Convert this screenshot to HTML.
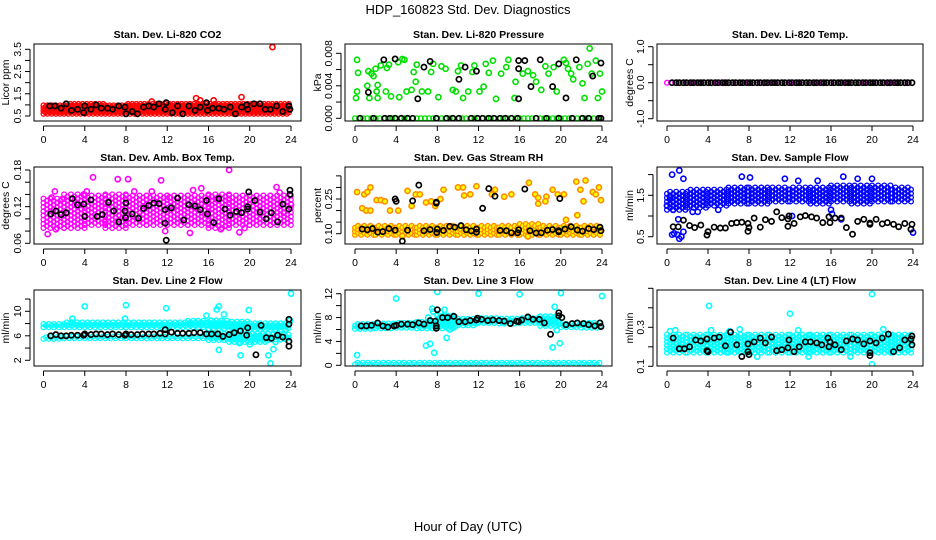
<!DOCTYPE html>
<html><head><meta charset="utf-8"><style>
html,body{margin:0;padding:0;background:#fff}
svg{display:block;font-family:"Liberation Sans",sans-serif}
</style></head><body>
<svg id="chart" width="936" height="540" viewBox="0 0 936 540">
<text x="468" y="14" text-anchor="middle" font-size="13">HDP_160823  Std. Dev. Diagnostics</text>
<text x="468" y="531" text-anchor="middle" font-size="13">Hour of Day (UTC)</text>
</svg>
<script>
// ---------- data ----------
const hourTicks = [0,4,8,12,16,20,24];
// 2-hour bin bands (12 bins) lo/hi
const co2BandLo = [0.6,0.6,0.6,0.6,0.6,0.6,0.6,0.6,0.6,0.6,0.6,0.6];
const co2BandHi = [1.0,1.05,1.05,1.0,1.05,1.05,1.05,1.1,1.1,1.1,1.1,1.05];
const co2Outliers = [[22.2,3.6],[14.8,1.3],[19.2,1.35],[16.5,1.2],[10.5,1.15],[15.2,1.2]];
const co2Black = [[0.6,0.95],[1.1,0.95],[1.7,0.85],[2.2,1.05],[2.7,0.75],[3.3,0.8],[3.9,0.65],[4.0,0.95],[4.6,0.8],[5.1,1.0],[5.6,0.85],[6.2,0.85],[6.7,0.8],[7.3,0.95],[7.9,0.9],[8.0,0.6],[8.6,0.7],[9.1,0.6],[9.7,0.9],[10.2,0.95],[10.7,0.9],[11.2,1.05],[11.8,0.8],[11.9,1.1],[12.5,0.65],[13.0,0.95],[13.5,0.6],[14.1,0.95],[14.7,0.75],[15.2,0.9],[15.8,1.1],[15.9,0.75],[16.4,0.85],[17.0,0.85],[17.5,0.8],[18.1,0.9],[18.6,0.6],[19.2,0.9],[19.7,1.0],[19.8,0.8],[20.4,1.05],[21.0,1.05],[21.5,0.8],[22.0,0.8],[22.6,0.95],[23.2,0.7],[23.8,0.95],[23.9,0.8]];

const presBandLo = [0,0,0,0,0,0,0,0,0,0,0,0];
const presBandHi = [0,0,0,0,0,0,0,0,0,0,0,0];
const presOutliers = [[0.2,0.0072],[0.3,0.0056],[0.2,0.0033],[0.1,0.0025],[1.2,0.004],[1.3,0.0058],[1.4,0.0025],[1.6,0.0055],[1.8,0.0052],[2.0,0.0061],[2.1,0.0033],[2.2,0.0041],[2.2,0.0025],[2.5,0.0065],[3.0,0.0033],[3.1,0.0062],[3.3,0.0066],[3.5,0.0027],[4.2,0.0069],[4.6,0.0073],[4.8,0.0072],[4.3,0.0026],[5.0,0.0033],[5.5,0.0035],[5.7,0.0057],[5.9,0.0045],[6.0,0.0066],[7.1,0.0033],[7.4,0.0057],[7.6,0.0067],[8.1,0.0026],[8.4,0.0064],[8.8,0.0061],[9.5,0.0035],[10.0,0.0058],[10.3,0.0065],[10.5,0.0025],[11.0,0.0033],[11.4,0.0057],[11.6,0.0065],[12.5,0.0039],[12.7,0.0067],[13.0,0.0056],[13.4,0.0071],[13.7,0.0024],[14.2,0.0055],[14.7,0.0063],[14.9,0.0072],[15.5,0.0025],[15.6,0.0045],[16.3,0.0055],[16.8,0.0058],[17.3,0.0053],[17.6,0.0045],[18.5,0.0064],[18.8,0.0055],[19.3,0.0063],[19.6,0.0033],[20.3,0.0072],[20.5,0.0068],[20.7,0.0061],[21.0,0.0055],[21.2,0.0048],[21.8,0.0063],[22.1,0.0043],[22.3,0.0025],[22.6,0.0067],[22.8,0.0086],[23.0,0.0055],[23.4,0.0071],[23.6,0.0025],[23.8,0.0055],[24.0,0.0033],[9.8,0.0033],[12.1,0.0033],[18.1,0.0035],[6.5,0.0033]];
const presBlack = [[1.3,0.0032],[2.8,0.0072],[3.9,0.0073],[6.1,0.0024],[6.7,0.0063],[7.3,0.0070],[10.1,0.0048],[10.7,0.0063],[11.8,0.0058],[15.9,0.0071],[15.9,0.0061],[15.9,0.0024],[16.5,0.0071],[17.1,0.0039],[18.0,0.0072],[19.2,0.0039],[19.8,0.0067],[20.5,0.0025],[21.5,0.0072],[23.1,0.0052],[23.9,0.0068],[0.5,0],[1.8,0],[2.9,0],[3.4,0],[3.9,0],[4.5,0],[5.1,0],[5.6,0],[7.9,0],[8.9,0],[9.5,0],[10.1,0],[11.3,0],[11.9,0],[12.4,0],[13.0,0],[13.5,0],[14.1,0],[14.6,0],[15.2,0],[15.8,0],[17.6,0],[18.6,0],[19.8,0],[21.1,0],[22.1,0],[22.7,0],[23.7,0],[23.9,0]];

const tempBandLo = [0,0,0,0,0,0,0,0,0,0,0,0];
const tempBandHi = [0,0,0,0,0,0,0,0,0,0,0,0];
const tempBlackHours = [0.5,0.9,1.2,1.6,1.9,2.3,2.6,3.0,3.3,3.6,4.0,4.3,4.7,5.0,5.4,5.7,6.0,6.4,6.7,7.1,7.4,7.8,8.1,8.4,8.8,9.1,9.5,9.8,10.2,10.5,10.8,11.2,11.5,11.9,12.2,12.6,12.9,13.2,13.6,13.9,14.3,14.6,15.0,15.3,15.6,16.0,16.3,16.7,17.0,17.4,17.7,18.0,18.4,18.7,19.1,19.4,19.8,20.1,20.4,20.8,21.1,21.5,21.8,22.2,22.5,22.8,23.2,23.5,23.9];

const ambBandLo = [0.085,0.085,0.09,0.085,0.09,0.09,0.09,0.09,0.085,0.09,0.09,0.09];
const ambBandHi = [0.135,0.14,0.14,0.14,0.14,0.14,0.14,0.14,0.14,0.14,0.14,0.14];
const ambOutliers = [[0.4,0.075],[0.8,0.135],[1.1,0.145],[1.8,0.132],[3.9,0.14],[4.2,0.145],[4.8,0.168],[7.2,0.165],[8.2,0.165],[8.8,0.145],[10.5,0.145],[11.4,0.163],[12.2,0.135],[14.2,0.077],[14.5,0.147],[15.3,0.15],[18.0,0.18],[17.2,0.083],[19.0,0.078],[19.5,0.085],[22.6,0.152],[22.9,0.143],[23.3,0.11],[24.0,0.123],[11.8,0.080],[1.2,0.083],[6.0,0.095],[16.8,0.132]];
const ambBlack = [[0.7,0.108],[1.2,0.113],[1.7,0.107],[2.2,0.11],[2.8,0.133],[3.3,0.123],[3.9,0.124],[4.0,0.104],[4.6,0.131],[5.2,0.104],[5.7,0.107],[6.3,0.127],[6.8,0.113],[7.3,0.095],[7.9,0.113],[7.95,0.102],[8.0,0.126],[8.6,0.108],[9.2,0.101],[9.7,0.117],[10.2,0.122],[10.7,0.126],[11.2,0.125],[11.8,0.093],[11.8,0.115],[11.9,0.065],[12.4,0.118],[13.0,0.134],[13.6,0.098],[14.1,0.123],[14.7,0.121],[15.2,0.115],[15.8,0.130],[15.9,0.108],[16.5,0.094],[17.0,0.133],[17.6,0.116],[18.1,0.106],[18.7,0.112],[19.2,0.110],[19.8,0.120],[19.8,0.116],[19.9,0.144],[20.5,0.130],[21.0,0.111],[21.6,0.100],[22.1,0.110],[22.7,0.095],[23.2,0.124],[23.8,0.116],[23.9,0.147],[23.9,0.140]];

const rhBandLo = [0.095,0.095,0.095,0.095,0.095,0.095,0.095,0.095,0.095,0.095,0.095,0.095];
const rhBandHi = [0.135,0.14,0.14,0.14,0.14,0.14,0.135,0.14,0.145,0.14,0.14,0.14];
const rhOutliers = [[0.2,0.28],[0.9,0.27],[1.2,0.28],[1.5,0.3],[0.7,0.21],[1.1,0.2],[1.5,0.2],[2.1,0.245],[2.5,0.245],[2.9,0.24],[3.4,0.2],[4.2,0.2],[5.1,0.285],[5.5,0.22],[5.9,0.27],[6.3,0.27],[6.9,0.235],[7.4,0.24],[7.8,0.22],[8.3,0.25],[8.6,0.29],[10.0,0.3],[10.5,0.3],[10.6,0.265],[11.2,0.27],[11.8,0.305],[13.3,0.27],[13.6,0.29],[14.5,0.26],[15.2,0.27],[16.9,0.32],[17.5,0.27],[17.8,0.255],[18.6,0.26],[19.2,0.29],[19.7,0.27],[20.3,0.27],[21.5,0.325],[21.9,0.29],[22.2,0.24],[22.4,0.33],[23.1,0.28],[23.4,0.27],[23.7,0.3],[23.9,0.245],[16.8,0.088],[4.6,0.09],[17.8,0.23],[18.5,0.24],[20.5,0.16],[21.6,0.18]];
const rhBlack = [[0.7,0.12],[1.2,0.117],[1.7,0.122],[2.2,0.107],[2.7,0.109],[3.3,0.122],[3.9,0.115],[3.9,0.25],[4.0,0.24],[4.6,0.068],[5.1,0.115],[5.6,0.242],[6.2,0.31],[6.7,0.113],[7.3,0.118],[7.9,0.236],[7.9,0.232],[7.95,0.105],[8.0,0.12],[8.6,0.114],[9.2,0.132],[9.7,0.128],[10.3,0.135],[10.8,0.117],[11.3,0.112],[11.8,0.106],[11.8,0.12],[12.4,0.21],[13.0,0.295],[13.6,0.262],[14.1,0.114],[14.7,0.113],[15.2,0.104],[15.8,0.104],[15.9,0.117],[16.5,0.293],[17.0,0.113],[17.6,0.103],[18.1,0.104],[18.7,0.115],[19.2,0.118],[19.8,0.108],[19.8,0.113],[19.9,0.252],[20.4,0.12],[21.0,0.13],[21.6,0.116],[22.1,0.111],[22.7,0.122],[23.2,0.118],[23.8,0.128],[23.9,0.113]];

const flowBandLo = [1.15,1.2,1.25,1.3,1.3,1.35,1.35,1.3,1.35,1.3,1.35,1.35];
const flowBandHi = [1.6,1.65,1.65,1.7,1.7,1.7,1.7,1.7,1.75,1.75,1.75,1.7];
const flowOutliers = [[0.5,2.0],[1.2,2.1],[1.6,1.9],[7.3,1.95],[8.1,1.93],[11.5,1.9],[12.8,1.85],[14.7,1.85],[17.2,1.95],[18.6,1.9],[20.0,1.9],[0.0,1.25],[0.5,0.55],[0.7,0.58],[1.0,0.55],[1.2,0.45],[1.4,0.5],[1.6,0.62],[1.1,0.92],[16.0,1.15],[16.1,1.05],[24.0,0.6],[12.2,1.0],[17.0,0.92],[0.3,1.45],[0.6,1.15],[2.5,1.1],[3.0,1.1],[5.0,1.15]];
const flowBlack = [[0.6,0.74],[1.1,0.74],[1.6,0.9],[2.2,0.77],[2.7,0.72],[3.3,0.78],[3.9,0.54],[4.0,0.62],[4.6,0.73],[5.2,0.71],[5.7,0.71],[6.3,0.82],[6.8,0.84],[7.3,0.85],[7.9,0.82],[7.9,0.63],[8.0,0.72],[8.5,0.95],[9.1,0.73],[9.6,0.91],[10.2,0.87],[10.7,1.1],[11.2,0.96],[11.8,0.75],[11.8,0.93],[11.9,1.0],[12.4,0.82],[13.0,0.98],[13.5,1.01],[14.1,0.98],[14.6,0.95],[15.2,0.84],[15.8,0.98],[15.9,0.84],[16.4,0.95],[17.0,0.95],[17.5,0.72],[18.1,0.56],[18.6,0.87],[19.2,0.92],[19.8,0.83],[19.8,0.8],[20.4,0.92],[21.0,0.81],[21.5,0.84],[22.1,0.8],[22.6,0.74],[23.2,0.82],[23.8,0.68],[23.9,0.8]];

const line2UpperLo = [7.4,7.4,7.4,7.4,7.4,7.4,7.4,7.4,7.2,7.0,7.0,7.0];
const line2UpperHi = [8.0,8.2,8.3,8.4,8.4,8.4,8.4,8.5,8.6,8.4,8.3,8.3];
const line2LowerLo = [5.5,5.6,5.6,5.6,5.6,5.6,5.6,5.6,5.3,5.0,5.0,5.4];
const line2LowerHi = [6.0,6.0,6.0,6.0,6.0,6.0,6.1,6.1,6.5,6.5,6.4,6.4];
const line2Outliers = [[4.0,10.8],[8.0,11.0],[11.9,10.5],[17.0,10.8],[16.8,10.3],[17.5,9.5],[19.9,10.2],[24.0,12.9],[17.0,3.7],[19.1,2.8],[20.0,4.6],[21.8,2.8],[22.0,1.5],[22.3,3.8],[22.5,5.0],[15.8,9.3],[19.0,4.8],[2.8,8.8],[7.9,8.8],[23.9,8.5]];
const line2Black = [[0.7,6.0],[1.2,6.2],[1.7,6.0],[2.2,6.0],[2.7,6.1],[3.3,6.1],[3.9,6.1],[4.0,6.3],[4.6,6.2],[5.1,6.3],[5.6,6.3],[6.2,6.2],[6.7,6.3],[7.3,6.2],[7.9,6.1],[8.0,6.3],[8.5,6.2],[9.1,6.2],[9.6,6.3],[10.2,6.3],[10.7,6.3],[11.3,6.4],[11.8,6.3],[11.8,7.0],[12.4,6.6],[13.0,6.4],[13.5,6.4],[14.1,6.4],[14.6,6.5],[15.2,6.5],[15.8,6.3],[16.3,6.3],[16.9,6.3],[17.4,5.9],[18.0,6.2],[18.5,6.5],[19.1,6.8],[19.7,6.1],[19.8,7.3],[20.6,2.9],[21.1,7.7],[21.6,5.7],[22.1,5.6],[22.7,6.1],[23.2,5.8],[23.8,8.7],[23.8,7.9],[23.8,5.1],[23.8,4.3]];

const line3ZeroLo = [0.15,0.15,0.15,0.15,0.15,0.15,0.15,0.15,0.15,0.15,0.15,0.15];
const line3ZeroHi = [0.45,0.45,0.45,0.45,0.45,0.45,0.45,0.45,0.45,0.45,0.45,0.45];
const line3MainLo = [6.1,6.2,6.3,6.2,6.2,6.7,7.1,7.0,7.1,6.6,6.4,6.3];
const line3MainHi = [7.1,7.1,7.2,7.4,8.5,7.9,8.0,8.0,8.0,8.3,7.2,7.2];
const line3Outliers = [[0.2,1.7],[4.0,11.2],[8.0,12.3],[12.0,12.0],[16.0,11.9],[20.0,12.1],[24.0,11.6],[6.9,3.3],[7.3,3.6],[7.7,2.1],[8.9,4.6],[19.2,3.0],[19.6,5.9],[19.9,3.7],[19.4,9.8],[7.5,9.5],[8.7,9.3],[9.2,6.0],[7.1,8.0],[7.6,9.0],[8.3,8.8],[9.5,6.3]];
const line3Black = [[0.6,6.6],[1.1,6.6],[1.6,6.7],[2.2,7.1],[2.7,6.6],[3.2,6.4],[3.8,6.6],[4.0,6.7],[4.5,6.9],[5.1,6.9],[5.6,6.8],[6.2,7.1],[6.7,6.9],[7.3,7.5],[7.8,7.4],[7.9,6.6],[7.9,6.2],[8.0,9.3],[8.5,8.0],[9.0,8.0],[9.6,8.2],[10.1,7.3],[10.7,7.3],[11.2,7.5],[11.8,7.6],[11.9,7.9],[12.3,7.7],[12.9,7.5],[13.4,7.6],[14.0,7.5],[14.5,7.4],[15.1,7.0],[15.7,7.4],[15.9,7.3],[16.2,7.6],[16.8,8.1],[17.3,7.7],[17.9,7.7],[18.4,7.1],[19.0,5.2],[19.8,8.3],[19.8,8.8],[20.1,8.0],[20.5,6.8],[21.1,7.0],[21.6,7.1],[22.2,7.0],[22.7,6.8],[23.3,6.6],[23.8,7.1],[23.9,6.5]];

const line4BandLo = [0.17,0.17,0.17,0.17,0.17,0.17,0.17,0.17,0.17,0.17,0.17,0.17];
const line4BandHi = [0.27,0.27,0.27,0.265,0.27,0.27,0.265,0.27,0.27,0.27,0.27,0.27];
const line4Outliers = [[4.1,0.41],[12.0,0.37],[20.0,0.47],[20.0,0.11],[0.3,0.28],[7.1,0.29],[17.9,0.15],[8.8,0.15],[13.8,0.15],[6.1,0.28],[0.8,0.285],[4.3,0.285],[12.8,0.285],[21.1,0.29]];
const line4Black = [[0.6,0.245],[1.2,0.19],[1.7,0.19],[2.2,0.2],[2.8,0.235],[3.3,0.23],[3.9,0.24],[3.9,0.18],[4.0,0.175],[4.6,0.245],[5.1,0.25],[5.7,0.205],[6.2,0.275],[6.8,0.21],[7.3,0.15],[7.9,0.215],[7.9,0.175],[8.0,0.16],[8.5,0.225],[9.1,0.245],[9.6,0.22],[10.2,0.25],[10.7,0.18],[11.2,0.185],[11.8,0.195],[11.9,0.235],[12.4,0.175],[12.9,0.2],[13.5,0.225],[14.0,0.225],[14.6,0.22],[15.1,0.21],[15.7,0.245],[15.8,0.2],[15.9,0.225],[16.4,0.21],[17.0,0.185],[17.5,0.23],[18.1,0.24],[18.6,0.235],[19.2,0.215],[19.8,0.23],[19.8,0.17],[19.8,0.155],[20.4,0.22],[21.0,0.245],[21.6,0.265],[22.1,0.175],[22.7,0.195],[23.2,0.235],[23.8,0.24],[23.9,0.255],[23.9,0.21]];

// tick arrays
const co2Ticks=[0.5,1.0,1.5,2.0,2.5,3.0,3.5], co2Labels=["0.5","","1.5","","2.5","","3.5"];
const presTicks=[0,0.002,0.004,0.006,0.008], presLabels=["0.000","","0.004","","0.008"];
const tempTicks=[-1,-0.5,0,0.5,1], tempLabels=["-1.0","","0.0","","1.0"];
const ambTicks=[0.06,0.08,0.10,0.12,0.14,0.16,0.18], ambLabels=["0.06","","","0.12","","","0.18"];
const rhTicks=[0.10,0.15,0.20,0.25,0.30,0.35], rhLabels=["0.10","","","0.25","",""];
const flowTicks=[0.5,1.0,1.5,2.0], flowLabels=["0.5","","1.5",""];
const line2Ticks=[2,4,6,8,10,12], line2Labels=["2","","6","","10",""];
const line3Ticks=[0,2,4,6,8,10,12], line3Labels=["0","","4","","8","","12"];
const line4Ticks=[0.1,0.2,0.3,0.4,0.5], line4Labels=["0.1","","0.3","",""];

// ---------- rendering ----------
const svg=document.getElementById('chart');
const NS='http://www.w3.org/2000/svg';
function mk(tag,attrs,parent){const e=document.createElementNS(NS,tag);for(const k in attrs)e.setAttribute(k,attrs[k]);(parent||svg).appendChild(e);return e;}
const cols=[{bl:34,br:301,h0:43.5,h24:291,ylx:9},{bl:345,br:612,h0:355,h24:602,ylx:321},{bl:657,br:923,h0:667,h24:913,ylx:633}];
const rows=[{bt:44,bb:121},{bt:167,bb:244},{bt:290,bb:366}];
const panels=[
 {r:0,c:0,name:'co2',title:'Stan. Dev. Li-820 CO2',ylab:'Licor ppm',v1:0.5,p1:116,v2:3.5,p2:49.3,ticks:co2Ticks,labels:co2Labels,bands:[[co2BandLo,co2BandHi]],out:co2Outliers,black:co2Black,col:'#ff0000',fill:'none',dx:0.2,dy:2.8},
 {r:0,c:1,name:'pressure',title:'Stan. Dev. Li-820 Pressure',ylab:'kPa',v1:0,p1:118.3,v2:0.008,p2:53.3,ticks:presTicks,labels:presLabels,bands:[[presBandLo,presBandHi]],out:presOutliers,black:presBlack,col:'#00e000',fill:'none',dx:0.2,dy:3},
 {r:0,c:2,name:'temp',title:'Stan. Dev. Li-820 Temp.',ylab:'degrees C',v1:0,p1:82.7,v2:1,p2:46.7,ticks:tempTicks,labels:tempLabels,bands:[[tempBandLo,tempBandHi]],out:[],black:tempBlackHours.map(h=>[h,0]),col:'#ff00ff',fill:'none',dx:0.2,dy:3},
 {r:1,c:0,name:'amb-temp',title:'Stan. Dev. Amb. Box Temp.',ylab:'degrees C',v1:0.06,p1:243.3,v2:0.18,p2:170,ticks:ambTicks,labels:ambLabels,bands:[[ambBandLo,ambBandHi]],out:ambOutliers,black:ambBlack,col:'#ff00ff',fill:'none',dx:0.33,dy:4.2},
 {r:1,c:1,name:'gas-rh',title:'Stan. Dev. Gas Stream RH',ylab:'percent',v1:0.10,p1:233.7,v2:0.25,p2:199,ticks:rhTicks,labels:rhLabels,bands:[[rhBandLo,rhBandHi]],out:rhOutliers,black:rhBlack,col:'#ff8c00',fill:'#ffff00',dx:0.3,dy:3.6},
 {r:1,c:2,name:'sample-flow',title:'Stan. Dev. Sample Flow',ylab:'ml/min',v1:0.5,p1:236.7,v2:1.5,p2:195.3,ticks:flowTicks,labels:flowLabels,bands:[[flowBandLo,flowBandHi]],out:flowOutliers,black:flowBlack,col:'#0000ff',fill:'none',dx:0.3,dy:4},
 {r:2,c:0,name:'line2-flow',title:'Stan. Dev. Line 2 Flow',ylab:'ml/min',v1:2,p1:360.3,v2:10,p2:311.3,ticks:line2Ticks,labels:line2Labels,bands:[[line2UpperLo,line2UpperHi],[line2LowerLo,line2LowerHi]],out:line2Outliers,black:line2Black,col:'#00ffff',fill:'none',dx:0.25,dy:3.2},
 {r:2,c:1,name:'line3-flow',title:'Stan. Dev. Line 3 Flow',ylab:'ml/min',v1:0,p1:365.3,v2:12,p2:293.7,ticks:line3Ticks,labels:line3Labels,bands:[[line3ZeroLo,line3ZeroHi],[line3MainLo,line3MainHi]],out:line3Outliers,black:line3Black,col:'#00ffff',fill:'none',dx:0.25,dy:3.2},
 {r:2,c:2,name:'line4-flow',title:'Stan. Dev. Line 4 (LT) Flow',ylab:'ml/min',v1:0.1,p1:366.3,v2:0.3,p2:327.3,ticks:line4Ticks,labels:line4Labels,bands:[[line4BandLo,line4BandHi]],out:line4Outliers,black:line4Black,col:'#00ffff',fill:'none',dx:0.3,dy:3.6}
];
panels.forEach(P=>{
 const C=cols[P.c],R=rows[P.r];
 const sx=h=>C.h0+h*(C.h24-C.h0)/24;
 const sy=v=>P.p1+(v-P.v1)*(P.p2-P.p1)/(P.v2-P.v1);
 const g=mk('g',{});
 
 
 const clip=mk('clipPath',{id:'clip-'+P.name},g);
 mk('rect',{x:C.bl,y:R.bt,width:C.br-C.bl,height:R.bb-R.bt},clip);
 const t=mk('text',{x:(C.bl+C.br)/2,y:R.bt-6,'text-anchor':'middle','font-size':'10.5','font-weight':'bold'},g);
 t.textContent=P.title;
 
 
 const yl=mk('text',{x:C.ylx,y:(R.bt+R.bb)/2,'text-anchor':'middle','font-size':'10.5',transform:`rotate(-90 ${C.ylx} ${(R.bt+R.bb)/2})`},g);
 yl.textContent=P.ylab;
 
 
 const pts=mk('g',{'clip-path':`url(#clip-${P.name})`},g);
 
 
 // bands
 P.bands.forEach(([lo,hi])=>{
  for(let b=0;b<12;b++){
   const y1=sy(lo[b]),y2=sy(hi[b]);
   const top=Math.min(y1,y2),bot=Math.max(y1,y2);
   let k=0;
   for(let h=b*2;h<b*2+2-0.01;h+=P.dx){
    const off=(k++%2)*P.dy/2;
    for(let y=bot-off;y>=top-0.01;y-=P.dy){
     const c=mk('circle',{cx:sx(h),cy:y,r:2.4,fill:P.fill,stroke:P.col,'stroke-width':1.3},pts);
     
     
    }
   }
  }
 });
 P.out.forEach(([h,v])=>{
  const c=mk('circle',{cx:sx(h),cy:sy(v),r:2.6,fill:P.fill,stroke:P.col,'stroke-width':1.6},pts);
  
  
 });
 P.black.forEach(([h,v])=>{
  const c=mk('circle',{cx:sx(h),cy:sy(v),r:2.6,fill:'none',stroke:'#000','stroke-width':1.7},pts);
  
  
 });
 const box=mk('rect',{x:C.bl,y:R.bt,width:C.br-C.bl,height:R.bb-R.bt,fill:'none',stroke:'#000','stroke-width':1},g);
 
 
 const xa=mk('g',{},g);
 
 
 mk('line',{x1:sx(0),x2:sx(24),y1:R.bb+5,y2:R.bb+5,stroke:'#000'},xa);
 hourTicks.forEach(h=>{
  mk('line',{x1:sx(h),x2:sx(h),y1:R.bb+5,y2:R.bb+10,stroke:'#000'},xa);
  const tl=mk('text',{x:sx(h),y:R.bb+22,'text-anchor':'middle','font-size':'10.5'},xa);
  tl.textContent=h;
 });
 const ya=mk('g',{},g);
 
 
 const ax=C.bl-4;
 mk('line',{x1:ax,x2:ax,y1:sy(P.ticks[0]),y2:sy(P.ticks[P.ticks.length-1]),stroke:'#000'},ya);
 P.ticks.forEach((v,i)=>{
  const y=sy(v);
  mk('line',{x1:ax-5,x2:ax,y1:y,y2:y,stroke:'#000'},ya);
  if(P.labels[i]){
   const tx=ax-9;
   const tl=mk('text',{x:tx,y:y,'text-anchor':'middle','font-size':'10.5',transform:`rotate(-90 ${tx} ${y})`},ya);
   tl.textContent=P.labels[i];
  }
 });
});
</script>
</body></html>
